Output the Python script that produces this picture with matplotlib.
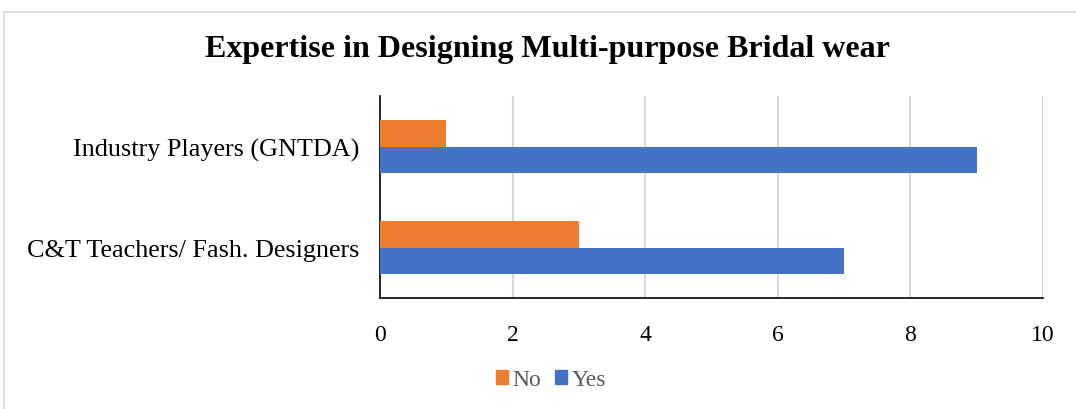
import matplotlib
matplotlib.use("Agg")
import matplotlib.pyplot as plt
from matplotlib.patches import Rectangle, Patch
import numpy as np

categories = ["C&T Teachers/ Fash. Designers", "Industry Players (GNTDA)"]
no_values = [3, 1]
yes_values = [7, 9]
x_ticks = [0, 2, 4, 6, 8, 10]

ORANGE = "#ED7D31"
BLUE = "#4472C4"

plt.rcParams['font.family'] = ['Liberation Serif', 'DejaVu Serif']

fig = plt.figure(figsize=(10.76, 4.10), dpi=100)
W, H = 1076, 410
ax = fig.add_axes([380 / W, 1 - 299 / H, (1043 - 380) / W, (299 - 97) / H])

# figure border
fig.patches.append(Rectangle((4 / W, -0.1), 1.2, (1 - 13 / H) + 0.1, transform=fig.transFigure,
                             fill=False, edgecolor="#D9D9D9", linewidth=1.2))

y = np.arange(len(categories))
h = 0.267
ax.barh(y + h / 2, no_values, height=h, color=ORANGE, label="No", zorder=3)
ax.barh(y - h / 2, yes_values, height=h, color=BLUE, label="Yes", zorder=3)

ax.set_xlim(0, 10)
ax.set_ylim(-0.5, 1.5)
ax.set_xticks(x_ticks)
ax.set_xticklabels([str(t) for t in x_ticks], fontsize=17)
ax.set_yticks(y)
ax.set_yticklabels(categories, fontsize=18.8)
ax.tick_params(axis='both', length=0)
ax.tick_params(axis='x', pad=19)
ax.tick_params(axis='y', pad=15)
ax.grid(axis='x', color="#D9D9D9", linewidth=1.5, zorder=0)
for s in ['top', 'right']:
    ax.spines[s].set_visible(False)
ax.spines['left'].set_color('black')
ax.spines['bottom'].set_color('black')
ax.spines['left'].set_linewidth(1.2)
ax.spines['bottom'].set_linewidth(1.2)

fig.text(547 / W, 1 - 49 / H, "Expertise in Designing Multi-purpose Bridal wear",
         ha='center', va='center', fontsize=23, fontweight='bold')

handles = [Patch(color=ORANGE, label="No"), Patch(color=BLUE, label="Yes")]
fig.legend(handles=handles, loc='center', bbox_to_anchor=(551 / W, 1 - 381 / H), ncol=2,
           frameon=False, fontsize=17, handlelength=0.5, handleheight=0.5,
           handletextpad=0.2, columnspacing=0.6, labelcolor="#595959")

fig.savefig("out.png", dpi=100)
